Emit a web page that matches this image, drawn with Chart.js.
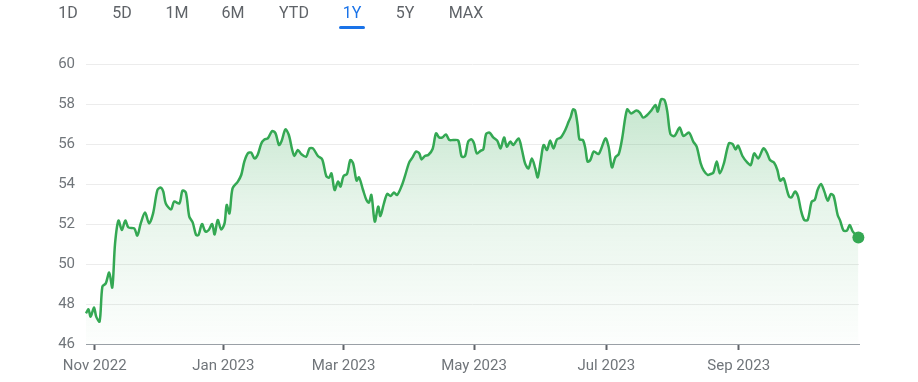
<!DOCTYPE html>
<html><head><meta charset="utf-8">
<script src="https://cdn.jsdelivr.net/npm/chart.js@4.4.0/dist/chart.umd.min.js"></script>
<style>
html,body{margin:0;padding:0;background:#fff;}
#wrap{position:relative;width:918px;height:382px;overflow:hidden;}
#c{position:absolute;left:0;top:0;width:918px;height:382px;}
.tab{position:absolute;top:5px;font-family:Roboto,sans-serif;font-size:16px;line-height:16px;color:#5f6368;transform:translateX(-50%);white-space:nowrap;}
.tab.sel{color:#1a73e8;}
#ul{position:absolute;left:339px;top:26px;width:26px;height:3px;background:#1a73e8;border-radius:2px;}
</style></head><body>
<div id="wrap"><canvas id="c" width="918" height="382"></canvas></div>
<script>
// ---- data ----
const periods = ['1D','5D','1M','6M','YTD','1Y','5Y','MAX'];
const selectedPeriod = '1Y';
const monthTickDay = [2.8, 44.4, 83.3, 125.5, 168.3, 211.1];
const monthTickLabels = ['Nov 2022','Jan 2023','Mar 2023','May 2023','Jul 2023','Sep 2023'];
const tradingDay = [0,0.8,1.5,2.6,3.3,4.4,5.3,6.4,7.5,8.5,9.4,10.5,11.6,12.7,13.7,15.6,16.6,17.7,19.1,20.4,21.7,23.1,24.2,25.0,25.8,27.5,28.5,30.2,31.2,32.3,33.4,34.5,35.6,36.4,37.5,38.6,39.7,40.8,41.6,42.6,43.7,44.8,45.5,46.4,47.4,49.1,50.2,51.2,52.3,53.4,54.5,55.5,56.7,57.7,58.8,60.2,61.3,62.4,63.2,64.5,65.6,66.7,67.4,68.5,69.6,71.2,72.3,73.4,75.0,76.4,77.7,78.6,79.4,80.4,81.5,82.3,83.3,84.4,85.5,86.4,87.5,88.3,89.6,90.7,91.5,92.3,93.4,94.5,95.2,96.3,97.4,98.5,99.6,100.6,102.0,103.1,104.5,105.6,106.7,107.8,108.5,109.6,110.7,112.1,113.2,114.2,115.3,116.4,117.5,118.8,120.4,121.5,122.6,123.6,124.7,125.5,126.4,127.7,128.5,129.4,130.5,131.7,133.0,134.1,135.2,136.1,137.2,138.2,139.9,141.0,142.0,143.1,144.2,145.3,146.1,147.1,148.0,149.1,150.1,151.2,152.3,153.6,155.0,156.1,156.8,157.5,158.2,159.0,159.6,160.7,161.5,162.2,163.1,164.2,165.8,168.0,169.0,170.1,171.2,172.3,173.4,175.0,176.3,178.0,179.1,180.2,181.5,182.8,184.2,184.9,186.0,187.1,188.0,189.0,190.3,192.0,193.2,195.0,196.4,197.5,198.8,199.8,201.1,202.0,202.9,204.0,205.0,206.3,207.9,209.1,210.1,210.9,212.3,213.9,215.0,216.1,217.4,219.1,220.2,221.2,222.5,223.6,224.5,225.6,226.7,227.4,228.2,229.3,230.3,231.2,232.3,233.4,234.7,235.7,236.6,237.7,238.8,239.9,240.9,241.8,243.1,243.9,245.0,246.1,247.0,248.0,249.8];
const price = [47.53,47.73,47.37,47.83,47.37,47.12,48.87,49.03,49.57,48.83,51.03,52.17,51.70,52.17,51.83,51.78,51.42,52.03,52.57,52.03,52.53,53.70,53.82,53.62,53.03,52.73,53.12,53.03,53.67,53.57,52.37,52.08,51.45,51.45,52.00,51.62,51.70,52.00,51.48,52.20,51.73,52.03,52.95,52.53,53.78,54.12,54.45,55.12,55.53,55.57,55.28,55.45,56.03,56.23,56.28,56.65,56.53,55.95,56.12,56.73,56.45,55.70,55.40,55.70,55.50,55.37,55.78,55.78,55.40,55.23,54.40,54.32,54.53,53.70,54.12,53.87,54.40,54.50,55.20,55.03,54.17,54.33,53.70,53.20,53.07,53.45,52.12,52.87,52.40,53.00,53.50,53.40,53.57,53.45,53.87,54.37,55.07,55.33,55.62,55.53,55.23,55.40,55.45,55.75,56.53,56.33,56.33,56.48,56.20,56.20,56.17,55.37,55.40,56.12,56.23,56.03,55.53,55.67,55.73,56.50,56.57,56.33,56.17,55.78,56.33,55.87,56.12,55.95,56.28,55.70,55.03,54.78,55.28,54.78,54.33,55.20,55.95,55.70,56.17,55.78,56.23,56.33,56.70,57.12,57.37,57.73,57.67,56.95,56.23,56.20,55.78,55.12,55.20,55.62,55.50,56.28,55.87,54.83,55.33,55.50,56.28,57.73,57.53,57.67,57.57,57.32,57.45,57.67,57.95,57.62,58.23,58.20,57.62,56.50,56.40,56.82,56.40,56.57,56.12,55.87,55.03,54.67,54.45,54.50,54.57,55.12,54.53,55.03,56.03,56.00,55.73,55.92,55.40,55.07,54.95,55.53,55.28,55.78,55.57,55.20,55.07,54.70,54.17,54.28,53.70,53.37,53.33,53.62,53.37,52.70,52.20,52.20,53.12,53.20,53.70,54.00,53.62,53.17,53.50,53.40,52.45,52.17,51.67,51.67,51.95,51.62,51.33];
const yMin = 46, yMax = 60, yStep = 2;

// ---- layout / style ----
const tabCenters = [68,122,177,233,294,352,405,466];
const GREEN = '#34a853';
const wrap = document.getElementById('wrap');
periods.forEach((p,i)=>{
  const d=document.createElement('div');
  d.className='tab'+(p===selectedPeriod?' sel':'');
  d.style.left=tabCenters[i]+'px';
  d.textContent=p;
  wrap.appendChild(d);
});
const ul=document.createElement('div'); ul.id='ul'; wrap.appendChild(ul);

const axisFont = {family:'Roboto', size:15};
new Chart(document.getElementById('c').getContext('2d'), {
  type:'line',
  data:{datasets:[{
    data: tradingDay.map((d,i)=>({x:d,y:price[i]})),
    borderColor:GREEN,
    borderWidth:2.5,
    tension:0.3,
    fill:'start',
    clip:false,
    backgroundColor:(c)=>{
      const a=c.chart.chartArea;
      if(!a) return 'rgba(52,168,83,0.15)';
      const g=c.chart.ctx.createLinearGradient(0,a.top,0,a.bottom);
      g.addColorStop(0,'rgba(52,168,83,0.34)');
      g.addColorStop(0.5,'rgba(52,168,83,0.12)');
      g.addColorStop(1,'rgba(52,168,83,0.01)');
      return g;
    },
    pointRadius:(c)=>c.dataIndex===price.length-1?6:0,
    pointHoverRadius:0,
    pointBackgroundColor:GREEN,
    pointBorderWidth:0
  }]},
  options:{
    responsive:false,
    devicePixelRatio:1,
    animation:false,
    layout:{padding:{top:64,right:59,left:0,bottom:0}},
    plugins:{legend:{display:false},tooltip:{enabled:false}},
    scales:{
      x:{
        type:'linear', min:0, max:250,
        afterBuildTicks:(s)=>{ s.ticks = monthTickDay.map(v=>({value:v})); },
        afterFit:(s)=>{ s.height=38; },
        ticks:{autoSkip:false,maxRotation:0,padding:7,color:'#70757a',font:axisFont,
          callback:(v,i)=>monthTickLabels[i]},
        grid:{drawOnChartArea:false,drawTicks:true,tickLength:6,tickWidth:2,tickColor:'#5f6368'},
        border:{display:true,color:'#9aa0a6',width:1}
      },
      y:{
        min:yMin,max:yMax,
        afterFit:(s)=>{ s.width=86; },
        ticks:{stepSize:yStep,padding:11,color:'#70757a',font:axisFont},
        grid:{color:'#ececec',drawTicks:false,lineWidth:1},
        border:{display:false}
      }
    }
  }
});
</script>
</body></html>
